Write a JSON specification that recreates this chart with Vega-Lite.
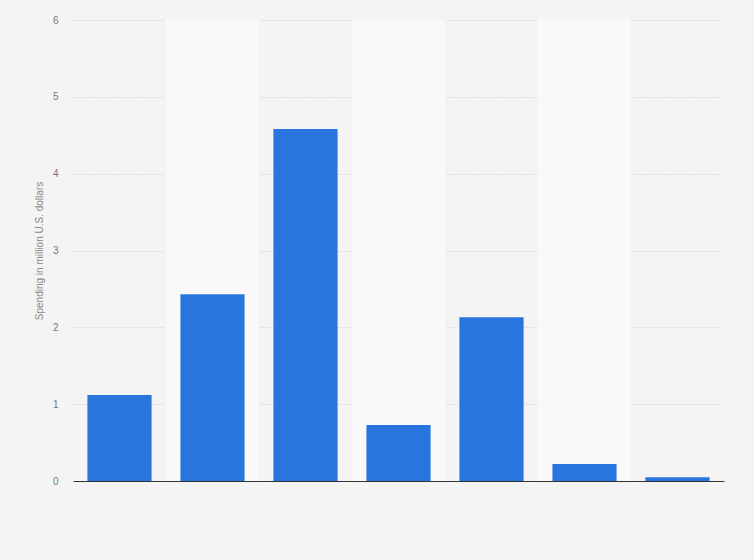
{
  "$schema": "https://vega.github.io/schema/vega-lite/v6.json",
  "width": 651,
  "height": 461,
  "autosize": "none",
  "padding": {"left": 73, "top": 20, "right": 30, "bottom": 79},
  "background": "#f4f4f4",
  "config": {
    "view": {"stroke": null},
    "font": "Liberation Sans",
    "axisY": {
      "title": "Spending in million U.S. dollars",
      "titleColor": "#888888",
      "titleFontSize": 10,
      "titleFontWeight": "normal",
      "titlePadding": 8,
      "labelColor": "#777777",
      "labelFontSize": 10,
      "labelPadding": 15,
      "ticks": false,
      "domain": false,
      "grid": true,
      "gridColor": "#cccccc",
      "gridDash": [1, 2]
    }
  },
  "data": {
    "values": [
      {"item": "1", "spending": 1.12, "shade": 0},
      {"item": "2", "spending": 2.43, "shade": 1},
      {"item": "3", "spending": 4.58, "shade": 0},
      {"item": "4", "spending": 0.73, "shade": 1},
      {"item": "5", "spending": 2.13, "shade": 0},
      {"item": "6", "spending": 0.22, "shade": 1},
      {"item": "7", "spending": 0.05, "shade": 0}
    ]
  },
  "encoding": {
    "x": {
      "field": "item",
      "type": "nominal",
      "sort": ["1", "2", "3", "4", "5", "6", "7"],
      "scale": {"paddingInner": 0, "paddingOuter": 0},
      "axis": {
        "title": null,
        "labels": false,
        "ticks": false,
        "domainColor": "#333333",
        "domainWidth": 1
      }
    }
  },
  "layer": [
    {
      "mark": {"type": "bar", "color": "#f9f9f9"},
      "transform": [{"filter": "datum.shade == 1"}],
      "encoding": {
        "y": {
          "datum": 6,
          "type": "quantitative",
          "scale": {"domain": [0, 6]},
          "axis": {"title": "Spending in million U.S. dollars", "values": [0, 1, 2, 3, 4, 5, 6]}
        },
        "y2": {"datum": 0}
      }
    },
    {
      "mark": {"type": "bar", "color": "#2876dd", "width": {"band": 0.69}},
      "encoding": {
        "y": {
          "field": "spending",
          "type": "quantitative",
          "scale": {"domain": [0, 6]},
          "axis": {"title": "Spending in million U.S. dollars", "values": [0, 1, 2, 3, 4, 5, 6]}
        }
      }
    }
  ]
}
